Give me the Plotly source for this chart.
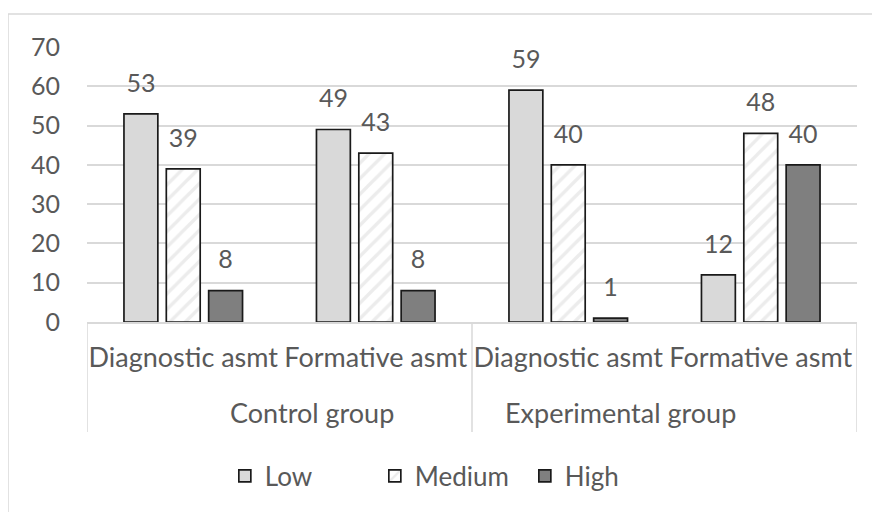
import plotly.graph_objects as go

groups = ["Control group", "Experimental group"]
assessments = ["Diagnostic asmt", "Formative asmt", "Diagnostic asmt", "Formative asmt"]
group_of = [0, 0, 1, 1]
low = [53, 49, 59, 12]
medium = [39, 43, 40, 48]
high = [8, 8, 1, 40]
series_names = ["Low", "Medium", "High"]

FONT = "Lato"
TXT = "#595959"
GRID = "#d9d9d9"
FS = 25
FS_CAT = 27
# page body has an 8px default margin: compensate so the chart sits at the window origin
OFF = 8

x = list(range(len(assessments)))
series_vals = [low, medium, high]
markers = [
    dict(color="#d9d9d9", line=dict(color="#1a1a1a", width=1.7)),
    dict(color="white", line=dict(color="#1a1a1a", width=1.7),
         pattern=dict(shape="/", fgcolor="#d9d9d9", bgcolor="white", size=11, solidity=0.3)),
    dict(color="#7f7f7f", line=dict(color="#1a1a1a", width=1.7)),
]

fig = go.Figure()
for name, vals, mk in zip(series_names, series_vals, markers):
    fig.add_trace(go.Bar(name=name, x=x, y=vals, marker=mk, offsetgroup=name))
# data labels: invisible markers push the text up above each bar
for name, vals in zip(series_names, series_vals):
    fig.add_trace(go.Scatter(
        x=x, y=vals, mode="markers+text", text=[str(v) for v in vals],
        textposition="top center", offsetgroup=name, showlegend=False, hoverinfo="skip",
        marker=dict(size=24, opacity=0), cliponaxis=False,
        textfont=dict(family=FONT, size=FS, color=TXT),
    ))

# group labels and dividers
group_shift = [32, -44]
for gi, g in enumerate(groups):
    idx = [i for i, k in enumerate(group_of) if k == gi]
    center = (idx[0] + idx[-1]) / 2
    fig.add_annotation(x=center, y=-0.33, xref="x", yref="paper", text=g,
                       showarrow=False, xshift=group_shift[gi],
                       font=dict(family=FONT, size=FS_CAT, color=TXT), yanchor="middle")

boundaries = [-0.5] + [i + 0.5 for i in range(len(group_of) - 1) if group_of[i] != group_of[i + 1]] + [len(group_of) - 0.5]
for b in boundaries:
    fig.add_shape(type="line", x0=b, x1=b, y0=0, y1=-0.4, xref="x", yref="paper",
                  line=dict(color=GRID, width=1.5))

# outer chart border
fig.add_shape(type="rect", x0=-0.1026, x1=1.2, y0=-0.8, y1=1.12, xref="paper", yref="paper",
              line=dict(color=GRID, width=1.5), fillcolor="rgba(0,0,0,0)")

fig.update_layout(
    width=880, height=512,
    margin=dict(l=87 - OFF, r=23 + OFF, t=47 - OFF, b=190 + OFF),
    paper_bgcolor="white", plot_bgcolor="white",
    barmode="group", bargap=0.34, bargroupgap=0.2,
    scattermode="group", scattergap=0.34,
    font=dict(family=FONT, size=FS, color=TXT),
    showlegend=True,
    legend=dict(orientation="h", x=0.179, xanchor="left", y=-0.56, yanchor="middle",
                entrywidth=105, font=dict(family=FONT, size=26, color=TXT),
                traceorder="normal"),
    xaxis=dict(tickmode="array", tickvals=x, ticktext=assessments, range=[-0.5, 3.5],
               showline=True, linecolor=GRID, linewidth=1.5, showgrid=False, zeroline=False,
               ticks="", ticklabelstandoff=11, tickfont=dict(family=FONT, size=FS_CAT, color=TXT)),
    yaxis=dict(range=[0, 70], dtick=10, showgrid=True, gridcolor=GRID, gridwidth=1.5,
               zeroline=False, showline=False, ticks="", ticklabelstandoff=26,
               tickfont=dict(family=FONT, size=FS, color=TXT)),
)

fig.write_html("out.html")
